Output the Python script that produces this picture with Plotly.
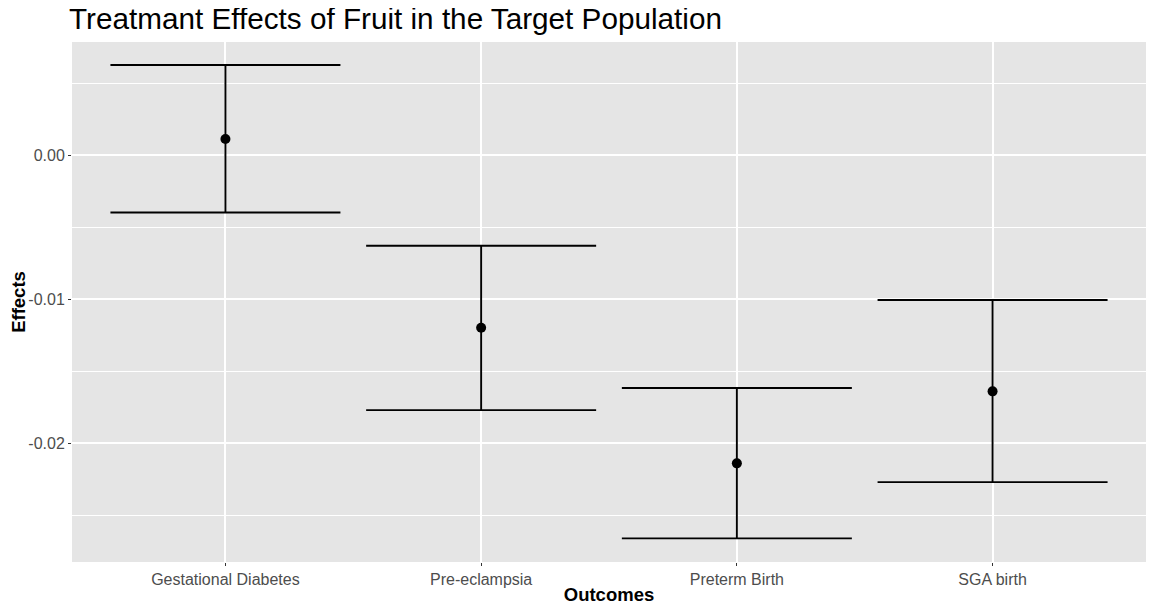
import plotly.graph_objects as go

# Outcomes and estimated treatment effects (with interval bounds)
outcomes = ["Gestational Diabetes", "Pre-eclampsia", "Preterm Birth", "SGA birth"]
effect = [0.00113, -0.01197, -0.02139, -0.01639]
upper = [0.00627, -0.00628, -0.01616, -0.01005]
lower = [-0.00397, -0.01769, -0.02660, -0.02269]

y_tickvals = [-0.02, -0.01, 0.0]
y_ticktext = ["-0.02", "-0.01", "0.00"]

err_plus = [u - e for u, e in zip(upper, effect)]
err_minus = [e - l for e, l in zip(effect, lower)]

fig = go.Figure()

fig.add_trace(go.Scatter(
    x=outcomes, y=effect,
    mode="markers",
    marker=dict(color="black", size=10),
    error_y=dict(
        type="data", symmetric=False,
        array=err_plus, arrayminus=err_minus,
        color="black", thickness=1.9, width=115,
    ),
    showlegend=False,
))

# page body has an 8px margin, so the figure is sized to fit the window
W, H = 1146, 604

fig.update_layout(
    width=W, height=H,
    margin=dict(l=64, r=8, t=34, b=50),
    paper_bgcolor="white",
    plot_bgcolor="#E5E5E5",
    font=dict(family="Liberation Sans, Arial, sans-serif", color="#4D4D4D"),
    title=dict(
        text="Treatmant Effects of Fruit in the Target Population",
        x=61 / W, xref="container", xanchor="left",
        y=1 - 11 / H, yref="container", yanchor="middle",
        font=dict(size=29.7, color="black"),
    ),
    xaxis=dict(
        type="category",
        range=[-0.6, 3.6],
        automargin=False,
        showgrid=True, gridcolor="white", gridwidth=1.6,
        ticks="outside", ticklen=3, tickcolor="#333333", tickwidth=1,
        tickfont=dict(size=16, color="#4D4D4D"),
        title=dict(text="<b>Outcomes</b>", font=dict(size=18.5, color="black"), standoff=0),
        zeroline=False,
    ),
    yaxis=dict(
        range=[-0.02824, 0.00787],
        tickvals=y_tickvals, ticktext=y_ticktext,
        automargin=False,
        showgrid=True, gridcolor="white", gridwidth=1.6,
        minor=dict(dtick=0.005, tick0=0, showgrid=True, gridcolor="white", gridwidth=0.7),
        ticks="outside", ticklen=3, tickcolor="#333333", tickwidth=1,
        tickfont=dict(size=16, color="#4D4D4D"),
        title=dict(text="<b>Effects</b>", font=dict(size=18.5, color="black"), standoff=2),
        zeroline=False,
    ),
)

fig.write_html("out.html")
